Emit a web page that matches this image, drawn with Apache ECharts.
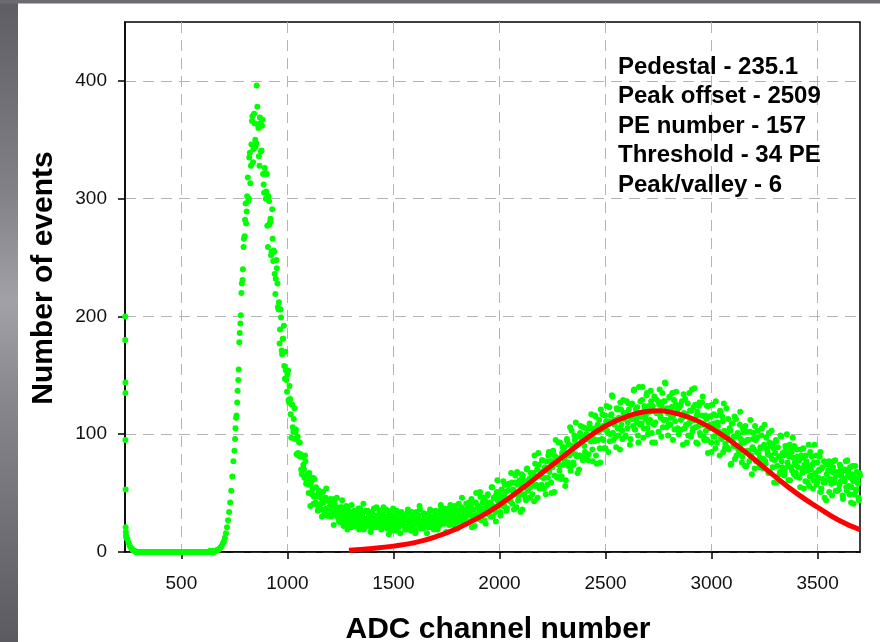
<!DOCTYPE html>
<html>
<head>
<meta charset="utf-8">
<script src="https://cdn.jsdelivr.net/npm/echarts@6/dist/echarts.min.js"></script>
<style>
  html, body { margin: 0; padding: 0; background: #fff; }
  #chart { width: 880px; height: 642px; }
</style>
</head>
<body>
<div id="chart"></div>
<script>
// ADC spectrum, counts, every 5th channel from 245
var adcStart = 245;
var adcStep = 5;
var counts = [
  11,8,6,4,3,2,1,1,0,0,0,0,0,0,0,0,0,0,0,0,
  0,0,0,0,0,0,0,0,0,0,0,0,0,0,0,0,0,0,0,0,
  0,0,0,0,0,0,0,0,0,0,0,0,0,0,0,0,0,0,0,0,
  0,0,0,0,0,0,0,0,0,0,0,0,0,0,0,0,0,0,1,0,
  0,1,0,1,1,2,2,3,4,5,7,9,12,16,21,27,34,42,52,64,
  77,86,105,116,137,155,186,201,228,240,266,282,279,302,298,335,313,346,370,342,
  364,344,396,363,336,369,340,362,321,305,322,306,277,302,278,283,255,266,256,236,
  232,241,208,212,189,199,168,181,158,170,146,151,129,141,117,125,106,113,96,104,
  97,84,93,81,70,81,74,63,77,61,65,50,63,57,49,63,47,48,55,40,
  47,38,51,36,44,42,33,46,37,31,43,39,30,41,34,45,31,38,36,29,
  34,25,38,29,22,33,31,24,36,27,30,21,33,28,35,24,29,26,37,22,
  30,24,33,19,28,35,25,22,31,27,20,34,26,29,23,38,24,27,32,21,
  25,31,22,28,36,20,27,24,33,18,29,26,31,23,35,27,21,30,25,28,
  24,30,19,27,33,22,28,25,34,21,26,29,18,31,24,27,36,23,26,20,
  29,23,32,26,21,30,35,25,28,19,31,27,24,33,22,29,37,26,30,24,
  31,26,34,28,37,24,30,33,27,39,29,25,35,31,28,38,26,33,30,36,
  36,25,42,33,39,21,36,42,31,50,30,38,36,47,27,42,35,44,24,40,
  49,33,40,30,55,39,46,34,49,61,39,45,31,53,39,48,57,44,37,52,
  57,43,67,41,53,49,65,38,57,48,61,34,56,65,49,55,44,71,54,62,
  55,63,49,67,82,56,64,46,74,55,68,78,63,54,72,71,57,82,68,77,
  50,72,83,65,95,64,77,74,93,62,84,74,89,56,82,94,73,82,69,103,
  90,74,95,110,81,91,70,101,81,95,106,90,80,100,98,83,109,94,105,77,
  96,116,82,106,95,112,76,104,117,95,104,88,124,101,111,94,116,133,101,112,
  112,89,121,99,114,127,108,96,118,116,99,128,110,121,91,114,126,107,138,104,
  113,123,93,117,128,109,140,105,121,116,135,100,124,112,128,93,120,132,110,118,
  118,102,138,114,124,106,128,144,112,122,99,131,108,123,135,116,104,125,123,105,
  100,124,112,128,91,118,130,108,115,99,135,111,120,102,123,139,106,116,92,124,
  101,116,127,108,95,116,113,95,124,105,115,85,107,117,98,128,93,107,102,120,
  97,115,85,103,92,122,98,87,105,74,109,94,98,79,113,89,100,84,119,92,
  81,102,93,107,73,95,86,102,81,66,96,87,107,77,97,84,72,89,99,79,
  79,108,75,88,83,101,68,90,79,92,59,84,94,73,81,66,99,77,84,68,
  69,87,100,73,81,61,88,69,80,90,74,64,81,79,63,87,71,80,54,73,
  82,69,73,56,85,65,74,61,91,67,57,76,69,81,51,71,62,77,59,44,
  61,69,51,75,58,68,77,62,52,68,67,53,74,60,68,45,62,70,55,78,
  68,49,63,55,73,41,63,52,68,58,44,65
];

// the in-between channels (753, 758, ...) of the same spectrum
var adcStart2 = 753;
var counts2 = [
  96,114,127,146,178,194,220,231,259,268,296,289,318,300,339,328,366,331,372,350,
  347,378,360,328,364,341,367,312,326,300,321,259,298,280,252,291,247,255,219,248,
  228,206,177,206,171,181,192,147,154,136,154,127,130,97,125,102,122,102,83,98,
  82,93,83,66,81,70,82,58,66,57,67,39,60,53,41,62,42,48,35,52,
  47,41,30,51,36,45,54,31,37,31,45,34,39,23,41,31,46,35,26,38,
  32,44,27,35,30,39,19,35,32,23,40,26,32,22,35,33,28,19,37,25,
  33,41,22,28,23,35,26,30,17,33,24,37,29,21,31,24,35,29,19,33,
  38,22,30,25,35,15,31,28,20,37,22,28,18,32,30,25,16,34,23,31,
  30,27,19,36,22,28,18,32,30,25,16,34,23,31,39,20,26,21,33,24,
  29,16,32,23,36,28,21,30,24,35,29,19,34,28,40,24,32,27,37,17,
  34,30,23,40,26,32,23,37,35,30,20,41,29,37,46,25,33,28,41,31,
  38,26,33,45,29,36,22,42,32,39,28,51,32,37,46,27,43,37,48,32,
  35,42,55,30,46,36,26,51,43,49,34,46,42,60,39,51,35,45,58,44,
  43,59,52,36,59,50,68,44,58,49,66,36,61,56,46,70,52,60,46,67,
  65,58,43,75,57,70,84,54,64,57,78,63,71,49,77,63,85,72,59,77,
  86,51,81,75,63,93,69,80,64,89,86,78,61,96,76,91,106,73,84,76,
  99,83,91,67,98,82,107,93,78,98,85,105,96,78,105,95,117,87,104,94,
  115,75,108,102,88,121,96,107,88,116,111,103,85,123,100,117,132,95,108,98,
  122,105,114,87,121,103,129,113,98,118,105,126,115,96,125,113,137,104,121,110,
  99,140,108,115,129,97,124,113,133,105,110,119,137,101,124,108,93,130,118,128,
  125,116,98,135,112,128,143,106,118,108,132,114,123,95,129,111,136,120,104,123,
  125,104,114,134,105,117,93,126,109,120,98,138,105,112,125,93,119,107,127,99,
  109,132,98,115,103,124,84,115,108,93,125,98,109,88,116,110,101,82,119,96,
  111,126,88,100,89,113,95,103,75,109,90,115,98,82,101,87,108,96,76,105,
  94,73,102,86,95,77,112,82,89,101,71,95,85,103,76,80,88,105,71,91,
  77,97,86,67,93,82,103,72,88,78,95,59,89,81,68,98,72,82,65,90,
  84,76,61,91,72,85,97,66,76,67,87,72,78,55,82,67,88,74,60,77,
  59,91,64,70,81,54,76,66,82,59,63,70,85,54,72,59,46,76,66,74,
  77,62,69,48,72,59,78,65,52,68,57,72,64,48,69,60,77,52,65,56,
  72,42,66,60,49,73,53,61,46,67
];

// pedestal spike at the left edge
var pedestalCh = [235,235,236,236,236,237,237,238,239,240];
var pedestalCounts = [200,180,144,135,95,53,21,17,14,12];

// fitted curve (red)
var fitCh = [1290,1400,1500,1600,1700,1800,1900,2000,2100,2200,2300,2400,2500,2600,2700,2750,2800,2900,3000,3100,3200,3300,3400,3500,3600,3700];
var fitCounts = [1.5,3,5,8,13,20,29,40,53,67,81,95,107,115,119.5,120,119,114,105,93,79,64,50,38,27,19];

var xTicks = [500,1000,1500,2000,2500,3000,3500];
var yTicks = [0,100,200,300,400];

var notes = [
  'Pedestal - 235.1',
  'Peak offset - 2509',
  'PE number - 157',
  'Threshold - 34 PE',
  'Peak/valley - 6'
];

var chart = echarts.init(document.getElementById('chart'));

var spectrum = [];
for (var i = 0; i < counts.length; i++) {
  spectrum.push([adcStart + i * adcStep, counts[i]]);
}
for (var m = 0; m < counts2.length; m++) {
  spectrum.push([adcStart2 + m * adcStep, counts2[m]]);
}
for (var j = 0; j < pedestalCh.length; j++) {
  spectrum.push([pedestalCh[j], pedestalCounts[j]]);
}
var fit = fitCh.map(function (c, k) { return [c, fitCounts[k]]; });

var FONT = '"Liberation Sans", Arial, sans-serif';
var gridLine = { show: true, lineStyle: { color: '#b4b4b4', width: 1, type: [11, 7] } };
var plain = function (v) { return String(v); };

var graphics = [
  {
    type: 'rect', z: -10, silent: true,
    shape: { x: 0, y: 0, width: 18, height: 642 },
    style: {
      fill: new echarts.graphic.LinearGradient(0, 0, 0, 1, [
        { offset: 0, color: '#5e5d64' },
        { offset: 0.3, color: '#828187' },
        { offset: 0.47, color: '#a2a1a7' },
        { offset: 0.62, color: '#88878d' },
        { offset: 1, color: '#5b5a61' }
      ])
    }
  },
  {
    type: 'rect', z: -10, silent: true,
    shape: { x: 0, y: 0, width: 880, height: 3.5 },
    style: { fill: '#6c6b72' }
  },
  {
    type: 'text', x: 44, y: 278, rotation: Math.PI / 2, silent: true,
    style: {
      text: 'Number of events', fill: '#000',
      font: 'bold 30px ' + FONT, align: 'center', verticalAlign: 'middle'
    }
  },
  {
    type: 'text', x: 498, y: 630, silent: true,
    style: {
      text: 'ADC channel number', fill: '#000',
      font: 'bold 30px ' + FONT, align: 'center', verticalAlign: 'middle'
    }
  }
];
notes.forEach(function (t, k) {
  graphics.push({
    type: 'text', x: 618, y: 67 + k * 29.6, z: 10, silent: true,
    style: { text: t, fill: '#000', font: 'bold 24px ' + FONT, align: 'left', verticalAlign: 'middle' }
  });
});

var option = {
  animation: false,
  backgroundColor: '#ffffff',
  grid: {
    left: 125, right: 20, top: 22, bottom: 90,
    show: true, borderColor: '#000', borderWidth: 1.5, backgroundColor: 'transparent'
  },
  xAxis: {
    type: 'value', min: 234, max: 3700,
    axisLine: { show: true, onZero: false, lineStyle: { color: '#000', width: 1.5 } },
    axisTick: { show: true, length: 7, customValues: xTicks, lineStyle: { color: '#000', width: 1.5 } },
    axisLabel: { customValues: xTicks, formatter: plain, margin: 22, color: '#111', fontSize: 19, fontFamily: FONT },
    splitLine: gridLine
  },
  yAxis: {
    type: 'value', min: 0, max: 450,
    axisLine: { show: true, lineStyle: { color: '#000', width: 1.5 } },
    axisTick: { show: true, length: 7, customValues: yTicks, lineStyle: { color: '#000', width: 1.5 } },
    axisLabel: { customValues: yTicks, formatter: plain, margin: 18, color: '#111', fontSize: 19, fontFamily: FONT },
    splitLine: gridLine
  },
  graphic: graphics,
  series: [
    {
      type: 'scatter',
      data: spectrum,
      symbol: 'circle',
      symbolSize: 6,
      itemStyle: { color: '#00ff00', opacity: 1 },
      silent: true,
      z: 2
    },
    {
      type: 'line',
      data: fit,
      smooth: true,
      showSymbol: false,
      lineStyle: { color: '#ff0000', width: 5 },
      silent: true,
      z: 3
    }
  ]
};
chart.setOption(option);
</script>
</body>
</html>
